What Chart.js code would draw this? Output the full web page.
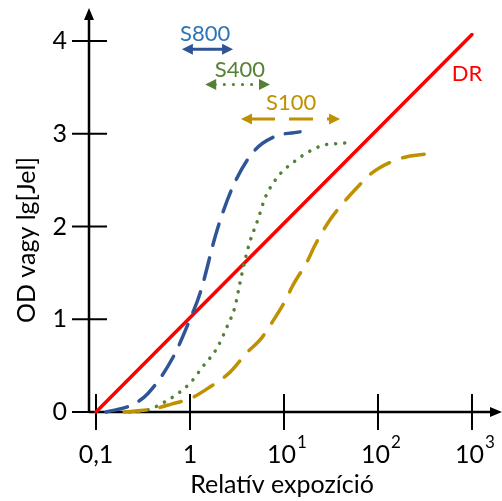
<!DOCTYPE html>
<html>
<head>
<meta charset="utf-8">
<script src="https://cdn.jsdelivr.net/npm/chart.js@4/dist/chart.umd.min.js"></script>
<style>
  html, body { margin: 0; padding: 0; background: #fff; }
  canvas { display: block; }
</style>
</head>
<body>
<canvas id="chart" width="502" height="501"></canvas>
<script>
// tick values and labels
const xTicks = [0.1, 1, 10, 100, 1000];
const xTickLabels = ['0,1', '1', '10', '10', '10'];
const xTickExps = ['', '', '1', '2', '3'];
const yTicks = [0, 1, 2, 3, 4];
const yTickLabels = ['0', '1', '2', '3', '4'];

// DR (digital radiography) - linear in lg
const drX = [0.1, 1000];
const drY = [0, 4.07];

// S800 film curve
const s800X = [0.128, 0.24, 0.357, 0.66, 1, 1.28, 1.94, 2.86, 4.68, 8.0, 14.8];
const s800Y = [0, 0.075, 0.2, 0.59, 1.0, 1.28, 1.96, 2.43, 2.8, 2.97, 3.02];

// S400 film curve
const s400X = [0.23, 0.32, 0.52, 1, 1.37, 1.94, 2.48, 3.0, 3.4, 3.85, 4.35, 5.3, 6.3, 8.2, 10, 12.5, 15.5, 25, 44.5];
const s400Y = [0, 0.01, 0.1, 0.31, 0.49, 0.69, 0.92, 1.13, 1.39, 1.64, 1.84, 2.08, 2.31, 2.51, 2.61, 2.69, 2.76, 2.87, 2.9];

// S100 film curve
const s100X = [0.2, 0.39, 0.61, 1.08, 1.63, 2.67, 4.04, 5.8, 7.4, 10.2, 12.5, 17.6, 21.4, 29.4, 38.5, 60, 82, 141, 219, 316];
const s100Y = [0, 0.03, 0.08, 0.16, 0.27, 0.43, 0.64, 0.8, 0.96, 1.19, 1.37, 1.62, 1.8, 2.04, 2.2, 2.42, 2.56, 2.7, 2.76, 2.78];

const xTitle = 'Relatív expozíció';
const yTitle = 'OD vagy lg[Jel]';
const FONT = 'Lato, "Open Sans", sans-serif';

const zip = (xs, ys) => xs.map((x, i) => ({ x, y: ys[i] }));

// speed range labels: arrow from x1 to x2 at y, label at (lx, ly)
const ranges = [
  { text: 'S800', color: '#2F5597', textColor: '#2E75B6', x1: 0.82, x2: 2.87, y: 3.91, lx: 1.45, ly: 4.08, dash: [] },
  { text: 'S400', color: '#548235', textColor: '#548235', x1: 1.45, x2: 7.1, y: 3.53, lx: 3.4, ly: 3.69, dash: [0.1, 9] },
  { text: 'S100', color: '#BF9000', textColor: '#BF9000', x1: 3.49, x2: 39.5, y: 3.16, lx: 11.9, ly: 3.33, dash: [24, 14] }
];

function arrowHead(ctx, x, y, dir, color) {
  ctx.fillStyle = color;
  ctx.beginPath();
  ctx.moveTo(x, y);
  ctx.lineTo(x - dir * 11, y - 5.5);
  ctx.lineTo(x - dir * 11, y + 5.5);
  ctx.closePath();
  ctx.fill();
}

const axesPlugin = {
  id: 'axes',
  beforeDatasetsDraw(chart) {
    const { ctx, chartArea: a, scales: { x, y } } = chart;
    const y0 = y.getPixelForValue(0);
    ctx.save();
    ctx.strokeStyle = '#000';
    ctx.lineWidth = 2.5;
    // axis lines
    ctx.beginPath();
    ctx.moveTo(a.left, y0);
    ctx.lineTo(a.right - 6, y0);
    ctx.moveTo(a.left, y0 + 1);
    ctx.lineTo(a.left, a.top + 6);
    ctx.stroke();
    // arrows
    ctx.fillStyle = '#000';
    ctx.beginPath();
    ctx.moveTo(a.right + 2, y0);
    ctx.lineTo(a.right - 10, y0 - 5);
    ctx.lineTo(a.right - 10, y0 + 5);
    ctx.closePath();
    ctx.fill();
    ctx.beginPath();
    ctx.moveTo(a.left, a.top - 2);
    ctx.lineTo(a.left - 5, a.top + 10);
    ctx.lineTo(a.left + 5, a.top + 10);
    ctx.closePath();
    ctx.fill();
    // ticks crossing the axes
    ctx.lineWidth = 2;
    ctx.beginPath();
    xTicks.forEach(v => {
      const px = x.getPixelForValue(v);
      ctx.moveTo(px, y0 - 18);
      ctx.lineTo(px, y0 + 18);
    });
    yTicks.forEach(v => {
      const py = y.getPixelForValue(v);
      ctx.moveTo(a.left - 17, py);
      ctx.lineTo(a.left + 18, py);
    });
    ctx.stroke();
    // tick labels
    ctx.textBaseline = 'alphabetic';
    xTicks.forEach((v, i) => {
      const px = x.getPixelForValue(v);
      ctx.font = '25px ' + FONT;
      const w = ctx.measureText(xTickLabels[i]).width;
      let we = 0;
      if (xTickExps[i]) {
        ctx.font = '17px ' + FONT;
        we = ctx.measureText(xTickExps[i]).width + 1;
      }
      const left = px - (w + we) / 2 + (we ? 3 : 0);
      ctx.textAlign = 'left';
      ctx.font = '25px ' + FONT;
      ctx.fillText(xTickLabels[i], left, y0 + 51);
      if (xTickExps[i]) {
        ctx.font = '17px ' + FONT;
        ctx.fillText(xTickExps[i], left + w + 1, y0 + 36);
      }
    });
    ctx.font = '25px ' + FONT;
    ctx.textBaseline = 'middle';
    ctx.textAlign = 'right';
    yTicks.forEach((v, i) => {
      ctx.fillText(yTickLabels[i], a.left - 22, y.getPixelForValue(v));
    });
    // titles
    ctx.textAlign = 'center';
    ctx.font = '25px ' + FONT;
    ctx.fillText(xTitle, 282, 485);
    ctx.translate(27, 240);
    ctx.rotate(-Math.PI / 2);
    ctx.fillText(yTitle, 0, 0);
    ctx.restore();
  },
  afterDatasetsDraw(chart) {
    const { ctx, scales: { x, y } } = chart;
    ctx.save();
    ctx.textAlign = 'center';
    ctx.textBaseline = 'middle';
    ctx.font = '22px ' + FONT;
    ranges.forEach(r => {
      const px1 = x.getPixelForValue(r.x1), px2 = x.getPixelForValue(r.x2);
      const py = y.getPixelForValue(r.y);
      ctx.strokeStyle = r.color;
      ctx.lineWidth = 3;
      ctx.lineCap = r.dash.length && r.dash[0] < 1 ? 'round' : 'butt';
      ctx.setLineDash(r.dash);
      ctx.beginPath();
      ctx.moveTo(px1 + 10, py);
      ctx.lineTo(px2 - 10, py);
      ctx.stroke();
      ctx.setLineDash([]);
      arrowHead(ctx, px1, py, -1, r.color);
      arrowHead(ctx, px2, py, 1, r.color);
      ctx.fillStyle = r.textColor;
      ctx.fillText(r.text, x.getPixelForValue(r.lx), y.getPixelForValue(r.ly));
    });
    // DR label
    ctx.fillStyle = '#FF0000';
    ctx.fillText('DR', x.getPixelForValue(885), y.getPixelForValue(3.65));
    ctx.restore();
  }
};

const lineOpts = { showLine: true, pointRadius: 0, fill: false, clip: false, cubicInterpolationMode: 'monotone' };

new Chart(document.getElementById('chart'), {
  type: 'scatter',
  data: {
    datasets: [
      { ...lineOpts, label: 'S100', data: zip(s100X, s100Y), borderColor: '#BF9000', borderWidth: 3.5, borderDash: [22, 14], borderCapStyle: 'round' },
      { ...lineOpts, label: 'S400', data: zip(s400X, s400Y), borderColor: '#548235', borderWidth: 3.5, borderDash: [0.1, 9], borderCapStyle: 'round' },
      { ...lineOpts, label: 'S800', data: zip(s800X, s800Y), borderColor: '#2F5597', borderWidth: 3.5, borderDash: [22, 13], borderCapStyle: 'round' },
      { ...lineOpts, label: 'DR', data: zip(drX, drY), borderColor: '#FF0000', borderWidth: 3.5, cubicInterpolationMode: 'default', borderCapStyle: 'round' }
    ]
  },
  options: {
    responsive: false,
    animation: false,
    layout: { padding: { left: 89, top: 10, right: 2, bottom: 89 } },
    plugins: { legend: { display: false }, tooltip: { enabled: false } },
    scales: {
      x: { type: 'logarithmic', display: false, min: Math.pow(10, -1.0745), max: Math.pow(10, 3.298) },
      y: { type: 'linear', display: false, min: 0, max: 4.334 }
    }
  },
  plugins: [axesPlugin]
});
</script>
</body>
</html>
